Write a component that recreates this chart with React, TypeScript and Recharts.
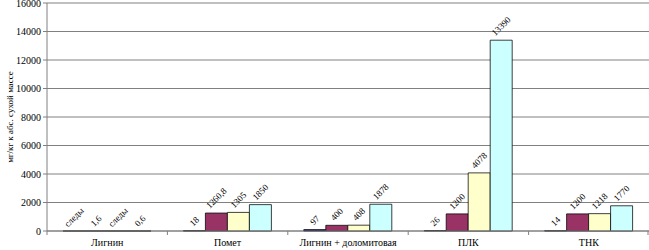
import { BarChart, Bar, XAxis, YAxis, CartesianGrid, LabelList } from 'recharts'

const categories = ['Лигнин', 'Помет', 'Лигнин + доломитовая', 'ПЛК', 'ТНК']
const series1 = [0, 18, 97, 26, 14]
const series2 = [1.6, 1260.8, 400, 1200, 1200]
const series3 = [0, 1305, 408, 4078, 1218]
const series4 = [0.6, 1850, 1878, 13390, 1770]
const labels1 = ['следы', '18', '97', '26', '14']
const labels2 = ['1,6', '1260,8', '400', '1200', '1200']
const labels3 = ['следы', '1305', '408', '4078', '1218']
const labels4 = ['0,6', '1850', '1878', '13390', '1770']
const yTicks = [0, 2000, 4000, 6000, 8000, 10000, 12000, 14000, 16000]
const yTitle = 'мг/кг к абс. сухой массе'

const W = 649
const H = 250
const AXIS_W = 47
const X_AXIS_H = 19
const PLOT_BOTTOM = H - X_AXIS_H
const PLOT_W = W - AXIS_W
const BAND = PLOT_W / categories.length
const FONT = 'Liberation Serif, Times New Roman, serif'

const data = categories.map((name, i) => ({
  name,
  s1: series1[i],
  s2: series2[i],
  s3: series3[i],
  s4: series4[i],
  l1: labels1[i],
  l2: labels2[i],
  l3: labels3[i],
  l4: labels4[i],
}))

// rough text width for 9px serif
function textWidth(s: string) {
  let w = 0
  for (const ch of s) w += ch === ',' || ch === '.' ? 2.3 : /[0-9]/.test(ch) ? 4.5 : 4.3
  return w
}

function RotatedLabel(props: any) {
  const { x, y, width, value } = props
  const cx = Number(x) + Number(width) / 2
  const top = Number.isFinite(Number(y)) ? Number(y) : PLOT_BOTTOM
  const text = String(value)
  const h = (textWidth(text) + 6) * 0.707
  const cy = top - h / 2 - 4
  return (
    <text
      x={cx}
      y={cy}
      fontSize={9}
      fontFamily={FONT}
      fill="#000"
      textAnchor="middle"
      dominantBaseline="central"
      transform={`rotate(-45 ${cx} ${cy})`}
    >
      {text}
    </text>
  )
}

function CategoryTick(props: any) {
  const { x, payload, index } = props
  const left = x - BAND / 2
  return (
    <g>
      <line x1={left} y1={PLOT_BOTTOM} x2={left} y2={PLOT_BOTTOM + 4} stroke="#808080" />
      {index === categories.length - 1 && (
        <line x1={x + BAND / 2 - 1} y1={PLOT_BOTTOM} x2={x + BAND / 2 - 1} y2={PLOT_BOTTOM + 4} stroke="#808080" />
      )}
      <text x={x} y={PLOT_BOTTOM + 15} fontSize={10} fontFamily={FONT} fill="#000" textAnchor="middle">
        {payload.value}
      </text>
    </g>
  )
}

function YTitle(props: any) {
  const { viewBox } = props
  const cy = viewBox.y + viewBox.height / 2
  return (
    <text
      x={10}
      y={cy}
      fontSize={9}
      fontFamily={FONT}
      fill="#000"
      textAnchor="middle"
      dominantBaseline="central"
      transform={`rotate(-90 10 ${cy})`}
    >
      {yTitle}
    </text>
  )
}

export default function App() {
  return (
    <div style={{ position: 'absolute', left: 0, top: 0, background: '#fff', fontFamily: FONT }}>
      <BarChart
        width={W}
        height={H}
        data={data}
        margin={{ top: 3, right: 0, bottom: 0, left: 0 }}
        barCategoryGap={16}
        barGap={0}
      >
        <CartesianGrid vertical={false} stroke="#808080" />
        <XAxis
          dataKey="name"
          height={X_AXIS_H}
          axisLine={{ stroke: '#808080' }}
          tickLine={false}
          tick={<CategoryTick />}
          interval={0}
        />
        <YAxis
          width={AXIS_W}
          domain={[0, 16000]}
          ticks={yTicks}
          interval={0}
          axisLine={{ stroke: '#808080' }}
          tickLine={{ stroke: '#808080' }}
          tickSize={4}
          tick={{ fontSize: 10, fill: '#000', fontFamily: FONT }}
          label={<YTitle />}
        />
        <Bar dataKey="s1" fill="#000080" stroke="#000" strokeWidth={0.75} minPointSize={0.01} isAnimationActive={false}>
          <LabelList dataKey="l1" content={<RotatedLabel />} />
        </Bar>
        <Bar dataKey="s2" fill="#993366" stroke="#000" strokeWidth={0.75} isAnimationActive={false}>
          <LabelList dataKey="l2" content={<RotatedLabel />} />
        </Bar>
        <Bar dataKey="s3" fill="#FFFFCC" stroke="#000" strokeWidth={0.75} minPointSize={0.01} isAnimationActive={false}>
          <LabelList dataKey="l3" content={<RotatedLabel />} />
        </Bar>
        <Bar dataKey="s4" fill="#CCFFFF" stroke="#000" strokeWidth={0.75} isAnimationActive={false}>
          <LabelList dataKey="l4" content={<RotatedLabel />} />
        </Bar>
      </BarChart>
    </div>
  )
}
